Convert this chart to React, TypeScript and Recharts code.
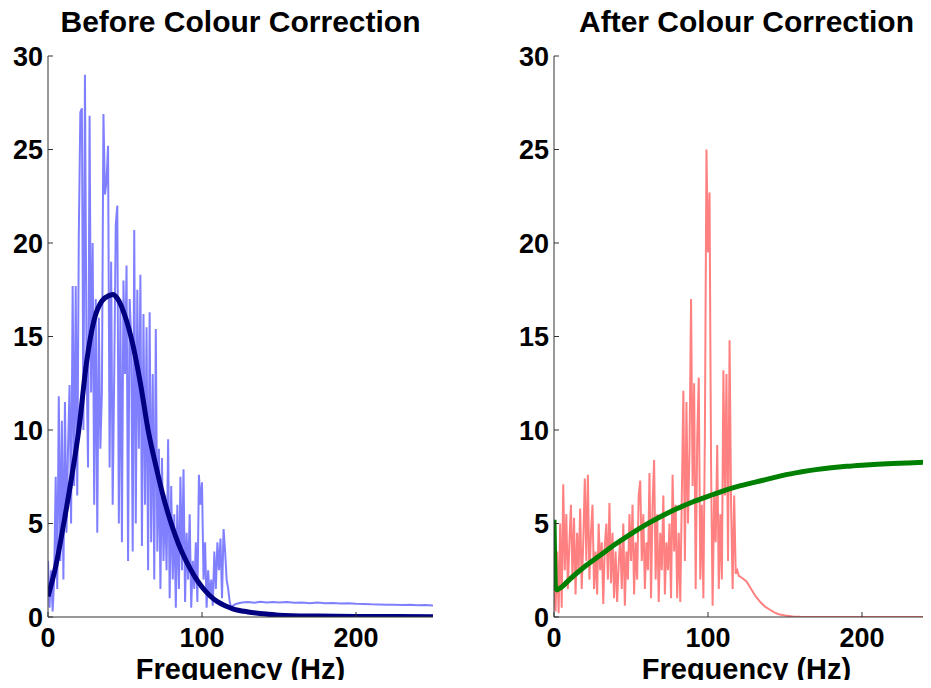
import { LineChart, Line, XAxis, YAxis } from 'recharts';

// spectrum values sampled every 1 Hz from 0 to 120 Hz
const beforeSpectrum = [
  3.0, 0.5, 2.5, 0.3, 2.0, 7.5, 1.5, 11.8, 3.0, 10.5,
  2.0, 11.5, 4.5, 9.0, 12.4, 5.0, 17.7, 7.0, 17.7, 6.5,
  20.4, 27.0, 27.2, 10.0, 29.0, 14.0, 8.0, 26.8, 12.0, 20.0,
  6.0, 17.0, 4.5, 16.0, 9.0, 12.0, 26.9, 22.6, 23.3, 25.2,
  8.0, 19.0, 6.0, 13.0, 21.0, 22.0, 5.0, 16.5, 4.0, 18.0,
  13.0, 18.8, 3.0, 17.0, 15.0, 3.5, 20.7, 5.0, 17.5, 9.0,
  18.3, 3.8, 16.2, 6.0, 15.5, 2.5, 16.3, 4.0, 13.0, 2.0,
  15.4, 3.5, 9.0, 1.5, 8.5, 3.0, 6.5, 2.5, 9.5, 1.0,
  7.0, 2.0, 5.5, 0.5, 6.0, 1.5, 7.5, 2.5, 7.9, 0.8,
  4.5, 2.0, 5.5, 0.5, 3.0, 1.5, 4.0, 0.8, 7.6, 6.0,
  7.2, 2.0, 4.0, 0.5, 2.5, 1.0, 2.0, 0.6, 3.5, 1.5,
  4.0, 2.5, 4.2, 1.0, 4.7, 3.5, 2.0, 1.5, 0.8, 0.5,
  0.6,
];
const beforeTail: [number, number][] = [
  [122, 0.7], [126, 0.78], [130, 0.8], [134, 0.76], [138, 0.82], [142, 0.78],
  [146, 0.8], [150, 0.77], [155, 0.8], [160, 0.76], [165, 0.78], [170, 0.74],
  [175, 0.77], [180, 0.73], [185, 0.75], [190, 0.72], [195, 0.74], [200, 0.71],
  [205, 0.7], [210, 0.68], [215, 0.67], [220, 0.66], [225, 0.66], [230, 0.64],
  [235, 0.65], [240, 0.63], [245, 0.64], [250, 0.62],
];
const beforeFit: [number, number][] = [
  [0, 1.1], [5, 2.7], [10, 4.9], [15, 7.3], [20, 10.0], [25, 13.6], [30, 15.9],
  [35, 16.9], [40, 17.2], [42, 17.25], [45, 17.05], [50, 16.1], [55, 14.6],
  [60, 12.5], [65, 10.0], [70, 8.1], [75, 6.4], [80, 5.0], [85, 3.85], [90, 2.95],
  [95, 2.2], [100, 1.6], [105, 1.15], [110, 0.82], [115, 0.6], [120, 0.44],
  [130, 0.27], [140, 0.17], [150, 0.1], [175, 0.05], [200, 0.03], [250, 0.02],
];

const afterSpectrum = [
  1.5, 0.3, 3.5, 0.2, 5.0, 0.5, 7.1, 2.5, 5.5, 1.5,
  4.0, 6.0, 2.0, 5.3, 1.2, 4.5, 2.5, 5.8, 1.5, 4.0,
  7.4, 3.0, 7.6, 2.0, 4.5, 6.0, 1.5, 3.5, 1.2, 5.0,
  2.5, 4.0, 0.7, 3.8, 5.0, 2.0, 6.1, 1.8, 4.5, 1.0,
  3.5, 0.8, 2.8, 4.2, 1.5, 5.0, 0.6, 3.5, 2.0, 5.5,
  3.0, 6.0, 1.2, 4.0, 2.0, 6.5, 7.3, 3.0, 5.5, 1.5,
  4.0, 2.5, 7.7, 1.0, 6.0, 8.4, 2.0, 5.5, 0.8, 4.5,
  2.5, 6.5, 1.2, 4.0, 2.5, 5.0, 1.0, 7.6, 3.5, 6.0,
  1.0, 4.5, 0.8, 6.5, 12.1, 3.0, 11.5, 5.0, 9.0, 17.0,
  7.0, 12.5, 1.5, 9.5, 12.8, 2.0, 6.0, 1.0, 10.0, 25.0,
  19.5, 22.7, 8.0, 0.6, 6.5, 4.0, 9.2, 1.5, 5.5, 2.0,
  13.2, 6.5, 13.0, 3.0, 14.8, 6.0, 1.5, 6.5, 2.3, 2.5,
  2.2,
];
const afterTail: [number, number][] = [
  [122, 2.1], [125, 1.9], [128, 1.5], [131, 1.1], [134, 0.8], [137, 0.55],
  [140, 0.4], [143, 0.25], [146, 0.15], [150, 0.08], [155, 0.03], [160, 0.01],
  [200, 0.0], [250, 0.0],
];
const afterFit: [number, number][] = [
  [0, 5.2], [1, 1.6], [2, 1.45], [3, 1.5], [5, 1.6], [10, 2.0], [20, 2.7],
  [30, 3.3], [40, 3.9], [50, 4.45], [60, 4.95], [70, 5.4], [80, 5.8],
  [90, 6.15], [100, 6.45], [110, 6.75], [120, 7.0], [130, 7.2], [140, 7.4],
  [150, 7.6], [160, 7.75], [170, 7.88], [180, 7.98], [190, 8.06], [200, 8.12],
  [210, 8.17], [220, 8.21], [230, 8.24], [240, 8.27], [250, 8.28],
];

const xTicks = [0, 100, 200];
const yTicks = [0, 5, 10, 15, 20, 25, 30];

const FONT = '"Liberation Sans", Arial, Helvetica, sans-serif';

const toPoints = (spectrum: number[], tail: [number, number][]) => [
  ...spectrum.map((v, i) => ({ f: i, v })),
  ...tail.map(([f, v]) => ({ f, v })),
];
const pairs = (arr: [number, number][]) => arr.map(([f, v]) => ({ f, v }));

interface PanelProps {
  left: number;
  title: string;
  noise: { f: number; v: number }[];
  fit: { f: number; v: number }[];
  noiseColor: string;
  fitColor: string;
}

function Panel({ left, title, noise, fit, noiseColor, fitColor }: PanelProps) {
  const tickStyle = { fontSize: 27, fontWeight: 'bold', fill: '#000', fontFamily: FONT };
  return (
    <div style={{ position: 'absolute', left, top: 0, width: 460, height: 688 }}>
      <div
        style={{
          position: 'absolute', left: 48, width: 385, top: 7, textAlign: 'center',
          fontFamily: FONT, fontWeight: 'bold', fontSize: 30, lineHeight: '30px', whiteSpace: 'nowrap',
        }}
      >
        {title}
      </div>
      <div
        style={{
          position: 'absolute', left: 48, width: 385, top: 655, textAlign: 'center',
          fontFamily: FONT, fontWeight: 'bold', fontSize: 29, lineHeight: '29px', whiteSpace: 'nowrap',
        }}
      >
        Frequency (Hz)
      </div>
      <LineChart width={460} height={688} margin={{ top: 56, right: 27, left: 0, bottom: 0 }}>
        <XAxis
          type="number"
          dataKey="f"
          domain={[0, 250]}
          ticks={xTicks}
          allowDataOverflow
          height={71}
          tickSize={-5}
          tickMargin={16}
          axisLine={{ stroke: '#333' }}
          tickLine={{ stroke: '#333' }}
          tick={tickStyle}
        />
        <YAxis
          type="number"
          domain={[0, 30]}
          ticks={yTicks}
          allowDataOverflow
          width={48}
          tickSize={-5}
          tickMargin={10}
          axisLine={{ stroke: '#333' }}
          tickLine={{ stroke: '#333' }}
          tick={tickStyle}
        />
        <Line
          data={noise}
          dataKey="v"
          type="linear"
          stroke={noiseColor}
          strokeWidth={2}
          dot={false}
          isAnimationActive={false}
        />
        <Line
          data={fit}
          dataKey="v"
          type="monotone"
          stroke={fitColor}
          strokeWidth={5}
          dot={false}
          isAnimationActive={false}
        />
      </LineChart>
    </div>
  );
}

export default function App() {
  return (
    <div
      style={{
        position: 'relative', width: 931, height: 688, margin: -8,
        overflow: 'hidden', background: '#fff',
      }}
    >
      <Panel
        left={0}
        title="Before Colour Correction"
        noise={toPoints(beforeSpectrum, beforeTail)}
        fit={pairs(beforeFit)}
        noiseColor="#8080ff"
        fitColor="#000080"
      />
      <Panel
        left={506}
        title="After Colour Correction"
        noise={toPoints(afterSpectrum, afterTail)}
        fit={pairs(afterFit)}
        noiseColor="#ff8080"
        fitColor="#008000"
      />
    </div>
  );
}
